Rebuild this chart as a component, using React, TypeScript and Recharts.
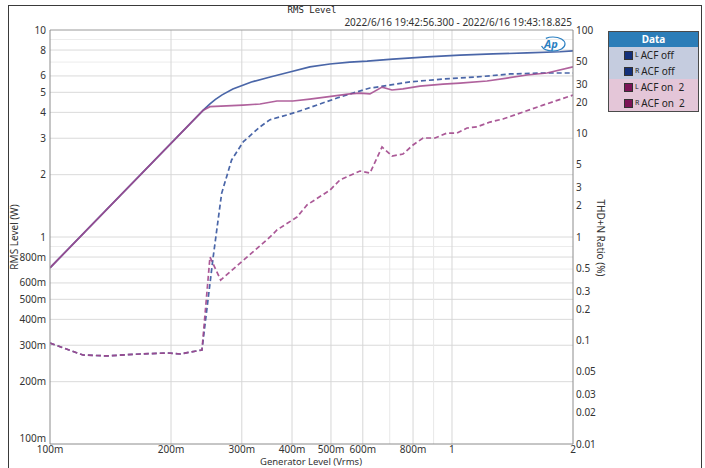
import React from 'react';
import { LineChart, Line, XAxis, YAxis, ReferenceLine } from 'recharts';

// generator level (Vrms) for each trace, with its reading
const offRmsLevel = [0.1, 0.2406, 0.25, 0.258, 0.268, 0.285, 0.317, 0.353, 0.395, 0.443, 0.497, 0.557, 0.615, 0.712, 0.867, 1.047, 1.265, 1.537, 1.856, 2.0];
const offRmsWatts = [0.71, 4.1, 4.4, 4.62, 4.86, 5.19, 5.61, 5.93, 6.27, 6.63, 6.85, 7.0, 7.07, 7.24, 7.41, 7.57, 7.66, 7.75, 7.85, 7.92];

const onRmsLevel = [0.1, 0.2406, 0.25, 0.302, 0.333, 0.367, 0.402, 0.443, 0.489, 0.557, 0.59, 0.625, 0.67, 0.709, 0.755, 0.832, 0.95, 1.047, 1.222, 1.37, 1.537, 1.723, 2.0];
const onRmsWatts = [0.71, 4.1, 4.26, 4.34, 4.39, 4.54, 4.54, 4.64, 4.75, 4.91, 4.96, 4.91, 5.3, 5.13, 5.19, 5.36, 5.48, 5.54, 5.67, 5.86, 6.06, 6.2, 6.63];

const offThdLevel = [0.1, 0.1208, 0.1386, 0.1675, 0.1954, 0.2106, 0.2388, 0.2547, 0.2673, 0.283, 0.3028, 0.333, 0.3526, 0.3887, 0.426, 0.4694, 0.5175, 0.5672, 0.6252, 0.6508, 0.7862, 0.95, 1.154, 1.394, 1.684, 2.0];
const offThdPct = [0.0946, 0.0724, 0.0709, 0.0741, 0.0758, 0.0741, 0.081, 0.645, 2.64, 5.55, 8.34, 11.6, 13.6, 15.1, 16.9, 19.3, 22.0, 24.6, 27.5, 28.1, 31.5, 33.6, 35.2, 37.6, 38.4, 38.4];

const onThdLevel = [0.1, 0.1208, 0.1386, 0.1675, 0.1954, 0.2106, 0.2388, 0.25, 0.2658, 0.3526, 0.367, 0.4116, 0.4358, 0.4972, 0.5265, 0.5904, 0.6252, 0.6698, 0.7092, 0.7553, 0.8, 0.8472, 0.9072, 0.9718, 1.029, 1.09, 1.154, 1.243, 1.339, 1.502, 1.684, 2.0];
const onThdPct = [0.0946, 0.0724, 0.0709, 0.0741, 0.0758, 0.0741, 0.081, 0.641, 0.384, 1.0, 1.17, 1.56, 2.04, 2.84, 3.56, 4.34, 4.15, 7.41, 6.06, 6.34, 7.74, 9.05, 9.05, 10.1, 10.1, 11.3, 11.6, 12.9, 13.8, 16.1, 18.8, 23.5];

const xTicks = [0.1, 0.2, 0.3, 0.4, 0.5, 0.6, 0.8, 1, 2];
const xGrid = [0.2, 0.3, 0.4, 0.5, 0.6, 0.7, 0.8, 0.9, 1];
const leftTicks = [0.1, 0.2, 0.3, 0.4, 0.5, 0.6, 0.8, 1, 2, 3, 4, 5, 6, 8, 10];
const leftGrid = [0.2, 0.3, 0.4, 0.5, 0.6, 0.7, 0.8, 0.9, 1, 2, 3, 4, 5, 6, 7, 8, 9];
const rightTicks = [0.01, 0.02, 0.03, 0.05, 0.1, 0.2, 0.3, 0.5, 1, 2, 3, 5, 10, 20, 30, 50, 100];

const legendItems = [
  { ch: 'L', name: 'ACF off', group: 'off' },
  { ch: 'R', name: 'ACF off', group: 'off' },
  { ch: 'L', name: 'ACF on  2', group: 'on' },
  { ch: 'R', name: 'ACF on  2', group: 'on' },
];

const toPoints = (xs: number[], ys: number[]) => xs.map((x, i) => ({ x, y: ys[i] }));

const milli = (v: number) => (v < 1 ? `${Math.round(v * 1000)}m` : `${v}`);

const FONT = '"Noto Sans", "Open Sans", sans-serif';
const tickStyle = { fontSize: 10, fill: '#333', fontFamily: FONT };

const BLUE = '#4A66A8';
const MAGENTA = '#A2478C';

// left tick: the bottom "100m" sits a little higher, clear of the x labels
const LeftTick = (props: any) => {
  const { x, y, payload } = props;
  const lift = payload.value === 0.1 ? -6 : 0;
  return (
    <text x={x} y={y + lift} dy="0.355em" textAnchor="end" fontFamily={FONT} fontSize={10} fill="#333">
      {milli(payload.value)}
    </text>
  );
};

const LegendBox = () => (
  <div
    style={{
      position: 'absolute',
      left: 608,
      top: 31,
      width: 91,
      border: '1px solid #4a4a4a',
      fontFamily: FONT,
      fontSize: 10,
      boxSizing: 'border-box',
    }}
  >
    <div style={{ background: '#2C7DB8', color: '#fff', fontWeight: 700, textAlign: 'center', height: 15, lineHeight: '15px' }}>
      Data
    </div>
    {legendItems.map((it, i) => (
      <div
        key={i}
        style={{
          background: it.group === 'off' ? '#C5CCDF' : '#E4C6D8',
          height: 16,
          display: 'flex',
          alignItems: 'center',
          color: '#222',
          whiteSpace: 'pre',
        }}
      >
        <span
          style={{
            display: 'inline-block',
            width: 9,
            height: 9,
            marginLeft: 15,
            marginRight: 2,
            background: it.group === 'off' ? '#14307A' : '#7C1456',
            border: '1px solid #333',
            boxSizing: 'border-box',
          }}
        />
        <sup style={{ fontSize: 7, marginRight: 2, position: 'relative', top: -1 }}>{it.ch}</sup>
        <span>{it.name}</span>
      </div>
    ))}
  </div>
);

const App: React.FC = () => {
  return (
    <div style={{ position: 'absolute', left: 0, top: 0, width: 705, height: 468, background: '#fff', overflow: 'hidden' }}>
      <div
        style={{
          position: 'absolute',
          left: 8,
          top: 5,
          width: 694,
          height: 480,
          border: '1px solid #3a3a3a',
          boxSizing: 'border-box',
        }}
      />
      <div style={{ position: 'absolute', left: 0, top: 0 }}>
        <LineChart width={705} height={468} margin={{ top: 30, right: 92, bottom: 0, left: 0 }}>
          <XAxis
            dataKey="x"
            type="number"
            scale="log"
            domain={[0.1, 2]}
            allowDataOverflow
            ticks={xTicks}
            interval={0}
            tickFormatter={milli}
            height={24}
            tickLine={false}
            tickSize={0}
            tickMargin={2}
            axisLine={{ stroke: '#8c8c8c' }}
            tick={tickStyle}
          />
          <YAxis
            yAxisId="left"
            type="number"
            scale="log"
            domain={[0.1, 10]}
            allowDataOverflow
            ticks={leftTicks}
            interval={0}
            width={50}
            tickLine={false}
            tickSize={0}
            tickMargin={4}
            axisLine={{ stroke: '#8c8c8c' }}
            tick={<LeftTick />}
          />
          <YAxis
            yAxisId="right"
            orientation="right"
            type="number"
            scale="log"
            domain={[0.01, 100]}
            allowDataOverflow
            ticks={rightTicks}
            interval={0}
            tickFormatter={(v: number) => String(v)}
            width={40}
            tickLine={false}
            tickSize={0}
            tickMargin={3}
            axisLine={{ stroke: '#8c8c8c' }}
            tick={tickStyle}
          />
          {leftGrid.map((v) => (
            <ReferenceLine
              key={`h${v}`}
              yAxisId="left"
              y={v}
              stroke={[0.7, 0.9, 7, 9].includes(v) ? '#ECECEC' : '#DADADA'}
              strokeWidth={1}
            />
          ))}
          {xGrid.map((v) => (
            <ReferenceLine
              key={`v${v}`}
              yAxisId="left"
              x={v}
              stroke={[0.7, 0.9].includes(v) ? '#E8E8E8' : '#D6D6D6'}
              strokeWidth={1}
            />
          ))}
          <ReferenceLine yAxisId="left" y={10} stroke="#9a9a9a" />
          <Line
            yAxisId="left"
            data={toPoints(offRmsLevel, offRmsWatts)}
            dataKey="y"
            type="linear"
            stroke={BLUE}
            strokeWidth={1.7}
            dot={false}
            isAnimationActive={false}
          />
          <Line
            yAxisId="right"
            data={toPoints(offThdLevel, offThdPct)}
            dataKey="y"
            type="linear"
            stroke={BLUE}
            strokeWidth={1.7}
            strokeDasharray="5 3"
            dot={false}
            isAnimationActive={false}
          />
          <Line
            yAxisId="left"
            data={toPoints(onRmsLevel, onRmsWatts)}
            dataKey="y"
            type="linear"
            stroke={MAGENTA}
            strokeOpacity={0.85}
            strokeWidth={1.7}
            dot={false}
            isAnimationActive={false}
          />
          <Line
            yAxisId="right"
            data={toPoints(onThdLevel, onThdPct)}
            dataKey="y"
            type="linear"
            stroke={MAGENTA}
            strokeOpacity={0.9}
            strokeWidth={1.7}
            strokeDasharray="5 3"
            dot={false}
            isAnimationActive={false}
          />
        </LineChart>
      </div>
      <svg width={705} height={468} style={{ position: 'absolute', left: 0, top: 0, pointerEvents: 'none' }}>
        <text x={312} y={13} textAnchor="middle" fontFamily='"DejaVu Sans Mono", monospace' fontSize={9} fill="#222">
          RMS Level
        </text>
        <text x={572} y={26} textAnchor="end" fontFamily={FONT} fontSize={10} fill="#333">
          2022/6/16 19:42:56.300 - 2022/6/16 19:43:18.825
        </text>
        <text x={311} y={465} textAnchor="middle" fontFamily={FONT} fontSize={9.5} fill="#333">
          Generator Level (Vrms)
        </text>
        <text x={18} y={237} textAnchor="middle" fontFamily={FONT} fontSize={10} fill="#333" transform="rotate(-90 18 237)">
          RMS Level (W)
        </text>
        <text x={597} y={238} textAnchor="middle" fontFamily={FONT} fontSize={10} fill="#333" transform="rotate(90 597 238)">
          THD+N Ratio (%)
        </text>
        <g transform="translate(551 44)">
          <ellipse cx={2} cy={0} rx={12} ry={7} fill="none" stroke="#2A7FC1" strokeWidth={1.2} strokeDasharray="28 10" />
          <text x={0} y={4} textAnchor="middle" fontFamily={FONT} fontSize={11} fontStyle="italic" fontWeight={700} fill="#2A7FC1">
            Ap
          </text>
        </g>
      </svg>
      <LegendBox />
    </div>
  );
};

export default App;
